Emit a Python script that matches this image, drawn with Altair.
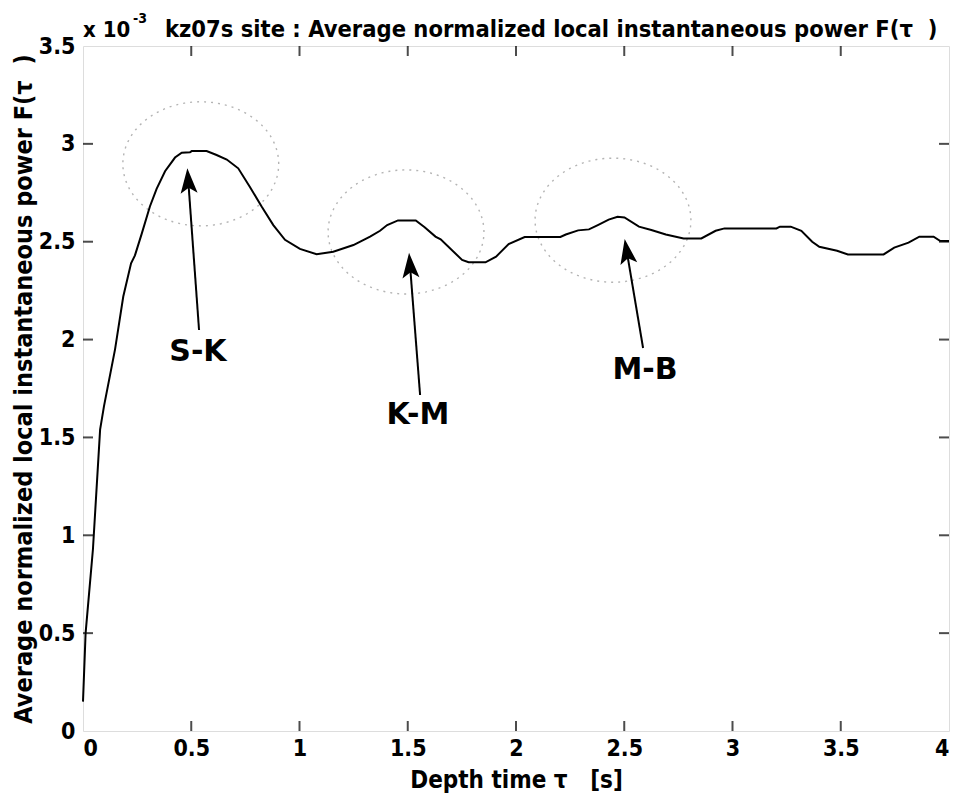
import math
import altair as alt
import pandas as pd

# ---- data (F in units of 1e-3) ----
tau = [0, 0.012, 0.046, 0.079, 0.097, 0.148, 0.186, 0.222, 0.24, 0.271,
       0.309, 0.34, 0.379, 0.425, 0.456, 0.494, 0.502, 0.571, 0.617, 0.664,
       0.717, 0.771, 0.825, 0.879, 0.933, 1.002, 1.079, 1.156, 1.249, 1.326,
       1.372, 1.405, 1.455, 1.537, 1.578, 1.628, 1.652, 1.751, 1.781, 1.859,
       1.908, 1.966, 2.04, 2.205, 2.23, 2.287, 2.337, 2.378, 2.428, 2.469,
       2.501, 2.568, 2.625, 2.692, 2.774, 2.856, 2.922, 2.963, 3.203, 3.219,
       3.269, 3.318, 3.368, 3.401, 3.483, 3.533, 3.698, 3.747, 3.813, 3.863,
       3.929, 3.958, 4.0]
power = [0.15, 0.5, 0.93, 1.54, 1.66, 1.95, 2.22, 2.39, 2.43, 2.54,
         2.68, 2.77, 2.86, 2.93, 2.955, 2.957, 2.963, 2.963, 2.943, 2.92,
         2.875, 2.78, 2.68, 2.585, 2.51, 2.463, 2.436, 2.449, 2.483, 2.526,
         2.556, 2.585, 2.609, 2.609, 2.574, 2.526, 2.512, 2.407, 2.395, 2.395,
         2.424, 2.488, 2.524, 2.524, 2.537, 2.558, 2.563, 2.585, 2.613, 2.627,
         2.624, 2.577, 2.56, 2.537, 2.517, 2.517, 2.556, 2.568, 2.568, 2.577,
         2.577, 2.556, 2.5, 2.474, 2.454, 2.435, 2.435, 2.47, 2.495, 2.526,
         2.526, 2.505, 2.504]

x_ticks = [0, 0.5, 1, 1.5, 2, 2.5, 3, 3.5, 4]
y_ticks = [0, 0.5, 1, 1.5, 2, 2.5, 3, 3.5]

# highlighted zones (dotted ellipses)
zone_cx = [0.544, 1.492, 2.448]
zone_cy = [2.898, 2.55, 2.61]
zone_rx = 0.36
zone_ry = 0.317

# annotations
ann_labels = ["S-K", "K-M", "M-B"]
ann_tip_x = [0.482, 1.506, 2.502]
ann_tip_y = [2.875, 2.443, 2.514]
ann_tail_x = [0.536, 1.557, 2.587]
ann_tail_y = [2.049, 1.717, 1.957]
ann_text_x = [0.531, 1.547, 2.596]
ann_text_y = [1.937, 1.615, 1.845]
ann_angle = [356, 355.6, 350.4]

NB = "\u00a0"
x_title = "Depth time τ" + NB * 3 + "[s]"
y_title = "Average normalized local instantaneous power F(τ" + NB * 2 + ")"
main_title = "kz07s site : Average normalized local instantaneous power F(τ" + NB * 2 + ")"

FONT = "DejaVu Sans Condensed, DejaVu Sans, sans-serif"
W, H = 866, 685

xs = alt.Scale(domain=[0, 4], nice=False, zero=False)
ys = alt.Scale(domain=[0, 3.5], nice=False, zero=False)

df = pd.DataFrame({"tau": tau, "F": power})

# ellipse outlines
rows = []
for k, (cx, cy) in enumerate(zip(zone_cx, zone_cy)):
    n = 120
    for i in range(n + 1):
        a = 2 * math.pi * i / n
        rows.append({"zone": k, "i": i,
                     "x": cx + zone_rx * math.cos(a),
                     "y": cy + zone_ry * math.sin(a)})
ell = pd.DataFrame(rows)

ann = pd.DataFrame({"label": ann_labels, "tx": ann_tip_x, "ty": ann_tip_y,
                    "sx": ann_tail_x, "sy": ann_tail_y,
                    "lx": ann_text_x, "ly": ann_text_y, "ang": ann_angle})
ann["mx"] = [tx + (sx - tx) * 0.1 for tx, sx in zip(ann_tip_x, ann_tail_x)]
ann["my"] = [ty + (sy - ty) * 0.1 for ty, sy in zip(ann_tip_y, ann_tail_y)]

axis_x = alt.Axis(values=x_ticks, format="~g", domain=False, ticks=False, grid=False,
                  labelFont=FONT, labelFontSize=23, labelFontWeight="bold", labelColor="black",
                  labelPadding=6, title=x_title, titleFont=FONT, titleFontSize=24,
                  titleFontWeight="bold", titleColor="black", titlePadding=8)
axis_y = alt.Axis(values=y_ticks, format="~g", domain=False, ticks=False, grid=False,
                  labelFont=FONT, labelFontSize=23, labelFontWeight="bold", labelColor="black",
                  labelPadding=8, title=y_title,
                  titleFont=FONT, titleFontSize=25, titleFontWeight="bold", titleColor="black",
                  titlePadding=2)

line = alt.Chart(df).mark_line(color="black", strokeWidth=2).encode(
    x=alt.X("tau:Q", scale=xs, axis=axis_x),
    y=alt.Y("F:Q", scale=ys, axis=axis_y),
)

ellipses = alt.Chart(ell).mark_line(color="#b4b4b4", strokeWidth=1.4, strokeDash=[2, 5]).encode(
    x=alt.X("x:Q", scale=xs), y=alt.Y("y:Q", scale=ys),
    detail="zone:N", order="i:Q",
)

shafts = alt.Chart(ann).mark_rule(color="black", strokeWidth=2).encode(
    x=alt.X("sx:Q", scale=xs), y=alt.Y("sy:Q", scale=ys), x2="mx:Q", y2="my:Q"
)

heads = alt.Chart(ann).mark_point(
    shape="M0,0 L0.34,1 L0,0.78 L-0.34,1 Z", filled=True, color="black", opacity=1, size=2500
).encode(
    x=alt.X("tx:Q", scale=xs), y=alt.Y("ty:Q", scale=ys), angle=alt.Angle("ang:Q", scale=None)
)

labels = alt.Chart(ann).mark_text(font="DejaVu Sans, sans-serif", fontSize=30, fontWeight="bold",
                                  color="black", baseline="middle", align="center").encode(
    x=alt.X("lx:Q", scale=xs), y=alt.Y("ly:Q", scale=ys), text="label:N"
)

tickdf_x = pd.DataFrame({"v": x_ticks[1:-1]})
tickdf_y = pd.DataFrame({"v": y_ticks[1:-1]})
tb = alt.Chart(tickdf_x).mark_tick(color="black", thickness=2, size=10, orient="vertical").encode(
    x=alt.X("v:Q", scale=xs), y=alt.value(H - 5))
tt = alt.Chart(tickdf_x).mark_tick(color="black", thickness=2, size=10, orient="vertical").encode(
    x=alt.X("v:Q", scale=xs), y=alt.value(5))
tl = alt.Chart(tickdf_y).mark_tick(color="black", thickness=2, size=10, orient="horizontal").encode(
    y=alt.Y("v:Q", scale=ys), x=alt.value(5))
tr = alt.Chart(tickdf_y).mark_tick(color="black", thickness=2, size=10, orient="horizontal").encode(
    y=alt.Y("v:Q", scale=ys), x=alt.value(W - 5))

title_df = pd.DataFrame({"t": ["x 10", "-3", main_title],
                         "px": [0, 50, 82], "py": [-9, -23, -9], "fs": [22, 14, 23.5]})
title = alt.Chart(title_df).mark_text(font=FONT, fontWeight="bold", color="black",
                                      align="left", baseline="alphabetic").encode(
    x=alt.X("px:Q", scale=None), y=alt.Y("py:Q", scale=None), text="t:N",
    size=alt.Size("fs:Q", scale=None, legend=None)
)

chart = alt.layer(ellipses, line, shafts, heads, labels, tb, tt, tl, tr, title).properties(
    width=W, height=H,
    padding={"left": 75, "top": 38, "right": 6, "bottom": 70},
    autosize=alt.AutoSizeParams(type="none"),
).configure_view(stroke="black", strokeWidth=2.5).configure(background="white")

chart.save("out.html", embed_options={"renderer": "svg", "actions": False})
